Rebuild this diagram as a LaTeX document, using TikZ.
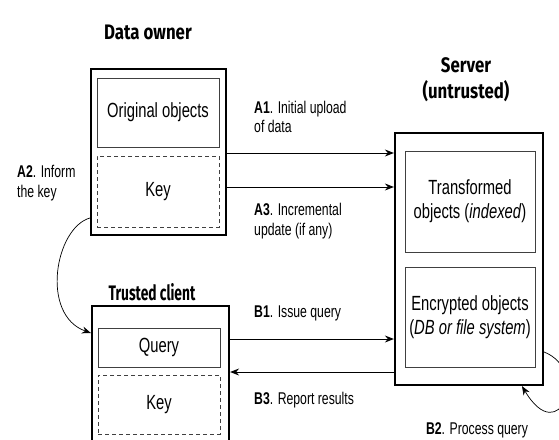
\documentclass[tikz,border=0pt]{standalone}
\usepackage{fontspec}
\setmainfont{Liberation Sans}[FakeStretch=0.72]
\newfontfamily\titlefont{Fira Sans}[FakeStretch=0.8]
\usetikzlibrary{arrows.meta,calc}
\begin{document}
\begin{tikzpicture}[x=1pt,y=-1pt,
  outerbox/.style={draw=black,line width=2.2pt,inner sep=0pt},
  innerbox/.style={draw=black!75,line width=0.9pt,inner sep=0pt,align=center,
    font=\fontsize{20.5}{24}\selectfont},
  keybox/.style={innerbox,dash pattern=on 4pt off 3pt},
  titletext/.style={font=\titlefont\bfseries\fontsize{21}{26}\selectfont,align=center},
  steplabel/.style={font=\fontsize{17}{19.5}\selectfont,align=left,anchor=west,inner sep=0pt},
  flow/.style={line width=0.9pt,-{Stealth[length=9pt,width=7pt,inset=3pt]}}]
\clip (0,0) rectangle (559,439);
\useasboundingbox (0,0) rectangle (559,439);

% titles
\node[titletext] (ownertitle) at (148,32) {Data owner};
\node[titletext] (servertitle) at (466,80) {Server\\(untrusted)};
\node[titletext] (clienttitle) at (152,292) {\scalebox{0.82}[1]{Trusted client}};

% data owner
\node[outerbox,minimum width=135pt,minimum height=166pt] (owner) at (158.5,152) {};
\node[innerbox,minimum width=122pt,minimum height=69pt] (orig) at (158,112.5) {Original objects};
\node[keybox,minimum width=122pt,minimum height=71pt] (okey) at (158,191.5) {Key};

% trusted client
\node[outerbox,minimum width=137pt,minimum height=154pt] (client) at (160.5,383) {};
\node[innerbox,minimum width=122pt,minimum height=39pt] (query) at (159,347.5) {Query};
\node[keybox,minimum width=122pt,minimum height=59pt] (ckey) at (159,404.5) {Key};

% server
\node[outerbox,minimum width=148pt,minimum height=252pt] (server) at (469,259) {};
\node[innerbox,minimum width=130pt,minimum height=101pt] (trans) at (470,201.5)
  {Transformed\\objects (\textit{indexed})};
\node[innerbox,minimum width=130pt,minimum height=100pt] (enc) at (470,317)
  {Encrypted objects\\(\textit{DB or file system})};

% connector heights
\coordinate (ya1) at (0,153);
\coordinate (ya3) at (0,187);
\coordinate (yb1) at (0,339);
\coordinate (yb3) at (0,372);
\coordinate (ya2s) at (0,218);
\coordinate (ya2e) at (0,333);
\coordinate (yb2) at (0,352);
\coordinate (xb2) at (522,0);

\draw[flow] (owner.east |- ya1) -- (server.west |- ya1);
\draw[flow] (owner.east |- ya3) -- (server.west |- ya3);
\draw[flow] (client.east |- yb1) -- (server.west |- yb1);
\draw[flow] (server.west |- yb3) -- (client.east |- yb3);
\draw[flow,line width=0.7pt] (owner.west |- ya2s) .. controls (55,228) and (40,315) .. (client.west |- ya2e);
\draw[flow,line width=0.7pt] (server.east |- yb2) .. controls (590,370) and (560,450) .. (server.south -| xb2);

% step labels
\node[steplabel] (la1) at (254,117) {\textbf{A1}. Initial upload\\of data};
\node[steplabel] (la3) at (254,221) {\textbf{A3}. Incremental\\update (if any)};
\node[steplabel] (la2) at (17,183) {\textbf{A2}. Inform\\the key};
\node[steplabel] (lb1) at (254,313) {\textbf{B1}. Issue query};
\node[steplabel] (lb3) at (254,400) {\textbf{B3}. Report results};
\node[steplabel,anchor=center] (lb2) at (477,430) {\textbf{B2}. Process query};
\end{tikzpicture}
\end{document}
